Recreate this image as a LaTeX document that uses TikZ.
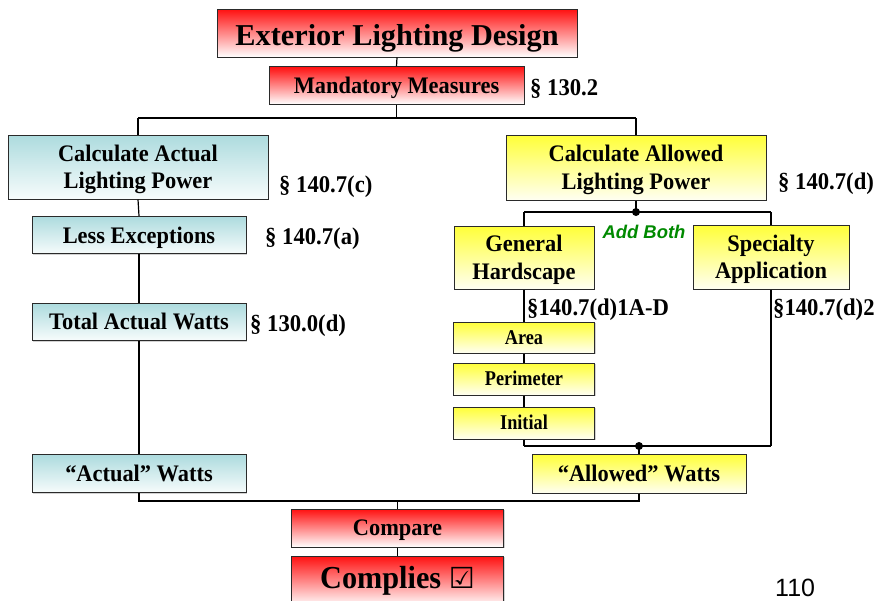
\documentclass[tikz,border=0pt]{standalone}
\usepackage{fontspec}
\setmainfont{Liberation Serif}[FakeStretch=0.945]
\newfontfamily\titlefont{Liberation Serif}
\newfontfamily\smallfont{Liberation Serif}[FakeStretch=0.87]
\newfontfamily\arialf{Liberation Sans}
\newfontfamily\dejavu{DejaVu Sans}
\usetikzlibrary{shadows}
\definecolor{redtop}{HTML}{FF1010}
\definecolor{yeltop}{HTML}{FFFF38}
\definecolor{yelbot}{HTML}{FFFFF2}
\definecolor{cyantop}{HTML}{ADDBDE}
\definecolor{cyanbot}{HTML}{F7FCFC}
\definecolor{addgreen}{HTML}{008A00}
\definecolor{boxline}{HTML}{2A2A2A}
% struts: first line height / last line depth (height - depth = cap height)
\newcommand\firststrut{\rule{0pt}{21.7pt}}
\newcommand\laststrut{\rule[-6pt]{0pt}{6pt}}
\newcommand\onestrut{\rule[-6pt]{0pt}{27.7pt}}
\newcommand\smallstrut{\rule[-6pt]{0pt}{25.9pt}}
\newcommand\titlestrut{\rule[-8pt]{0pt}{40.3pt}}
\newcommand\compliesstrut{\rule[-8pt]{0pt}{31.2pt}}
\newcommand\sectstrut{\rule[-6.1pt]{0pt}{28.1pt}}
\tikzset{
  boxbase/.style={draw=boxline, line width=1pt, inner sep=0pt, align=center,
    font=\bfseries\fontsize{23.7}{27.3}\selectfont,
    drop shadow={shadow xshift=1pt, shadow yshift=-1pt, fill=black!35, opacity=0.5}},
  redbox/.style={boxbase, top color=redtop, bottom color=white},
  yelbox/.style={boxbase, top color=yeltop, bottom color=yelbot},
  cyanbox/.style={boxbase, top color=cyantop, bottom color=cyanbot},
  smallbox/.style={font=\smallfont\bfseries\fontsize{21}{24}\selectfont},
  sect/.style={anchor=west, inner sep=0pt, font=\bfseries\fontsize{24}{28}\selectfont},
  conn/.style={draw=black, line width=1.2pt},
  junction/.style={fill=black}
}
\begin{document}
\begin{tikzpicture}[x=1pt,y=-1pt]
\useasboundingbox (0,0) rectangle (877,600);
\clip (0,0) rectangle (877,600);
\fill[white] (0,0) rectangle (877,600);

% boxes
\node[redbox, minimum width=360pt, minimum height=48pt, font=\titlefont\bfseries\fontsize{30.3}{34}\selectfont] (title) at (397,33) {\titlestrut Exterior Lighting Design};
\node[redbox, minimum width=255pt, minimum height=37.5pt] (mand) at (396.5,85.5) {\onestrut Mandatory Measures};

\node[cyanbox, minimum width=260pt, minimum height=64pt] (calcA) at (138,167) {\firststrut Calculate Actual\\Lighting Power\laststrut};
\node[cyanbox, minimum width=214pt, minimum height=37.5pt] (less) at (139,235.2) {\onestrut Less Exceptions};
\node[cyanbox, minimum width=214pt, minimum height=37.5pt] (total) at (139,322) {\onestrut Total Actual Watts};
\node[cyanbox, minimum width=214pt, minimum height=38pt] (actualW) at (139,473.7) {\onestrut ``Actual'' Watts};

\node[yelbox, minimum width=260pt, minimum height=65pt] (calcB) at (636,167.5) {\firststrut Calculate Allowed\\Lighting Power\laststrut};
\node[yelbox, minimum width=140pt, minimum height=63pt] (gen) at (524,257.5) {\firststrut General\\Hardscape\laststrut};
\node[yelbox, minimum width=156pt, minimum height=64pt] (spec) at (771,257) {\firststrut Specialty\\Application\laststrut};
\node[yelbox, smallbox, minimum width=141pt, minimum height=31pt] (area) at (524,337.5) {\smallstrut Area};
\node[yelbox, smallbox, minimum width=141pt, minimum height=32pt] (perim) at (524,379) {\smallstrut Perimeter};
\node[yelbox, smallbox, minimum width=141pt, minimum height=32pt] (init) at (524,423) {\smallstrut Initial};
\node[yelbox, minimum width=214pt, minimum height=39pt] (allowedW) at (639,473.7) {\onestrut ``Allowed'' Watts};

\node[redbox, minimum width=212pt, minimum height=38pt] (compare) at (397.5,528) {\onestrut Compare};
\node[redbox, minimum width=212pt, minimum height=50pt, font=\bfseries\fontsize{32}{36}\selectfont] (complies) at (397.5,581) {\compliesstrut Complies {\dejavu\fontsize{29}{34}\selectfont ☑}};

% section labels
\node[sect] (s1302) at (530,88) {\sectstrut § 130.2};
\node[sect] (s1407c) at (279,185) {\sectstrut § 140.7(c)};
\node[sect] (s1407a) at (265,237) {\sectstrut § 140.7(a)};
\node[sect] (s1300d) at (250,323.5) {\sectstrut § 130.0(d)};
\node[sect] (s1407d) at (778,182) {\sectstrut § 140.7(d)};
\node[sect] (s1407d1) at (527,307.5) {\sectstrut §140.7(d)1A-D};
\node[sect] (s1407d2) at (773,307.5) {\sectstrut §140.7(d)2};
\node[anchor=base, inner sep=0pt, text=addgreen, font=\arialf\bfseries\itshape\fontsize{18.4}{22}\selectfont] (addboth) at (644,238) {Add Both};
\node[anchor=base west, inner sep=0pt, font=\arialf\fontsize{25}{28}\selectfont] (pagenum) at (775,596) {110};

% junction coordinates
\coordinate (busTop) at (396.5,118);
\coordinate (busTopL) at (138,118);
\coordinate (busTopR) at (636,118);
\coordinate (dotB) at (636,212);
\coordinate (busBL) at (524,212);
\coordinate (busBR) at (771,212);
\coordinate (busCL) at (524,446);
\coordinate (busCR) at (771,446);
\coordinate (dotC) at (639,446);
\coordinate (busDL) at (139,501);
\coordinate (busDR) at (639,501);
\coordinate (busDM) at (397.5,501);

% connectors
\draw[conn] (title.south) -- (mand.north);
\draw[conn] (mand.south) -- (busTop);
\draw[conn] (busTopL) -- (busTopR);
\draw[conn] (busTopL) -- (calcA.north);
\draw[conn] (busTopR) -- (calcB.north);
\draw[conn] (calcA.south) -- (less.north);
\draw[conn] (less.south) -- (total.north);
\draw[conn] (total.south) -- (actualW.north);
\draw[conn] (calcB.south) -- (dotB);
\draw[conn] (busBL) -- (busBR);
\draw[conn] (busBL) -- (gen.north);
\draw[conn] (busBR) -- (spec.north);
\draw[conn] (gen.south) -- (area.north);
\draw[conn] (area.south) -- (perim.north);
\draw[conn] (perim.south) -- (init.north);
\draw[conn] (init.south) -- (busCL);
\draw[conn] (spec.south) -- (busCR);
\draw[conn] (busCL) -- (busCR);
\draw[conn] (dotC) -- (allowedW.north);
\draw[conn] (actualW.south) -- (busDL) -- (busDR) -- (allowedW.south);
\draw[conn] (busDM) -- (compare.north);
\draw[conn] (compare.south) -- (complies.north);
\fill[junction] (dotB) circle (4pt);
\fill[junction] (dotC) circle (4pt);
\end{tikzpicture}
\end{document}
